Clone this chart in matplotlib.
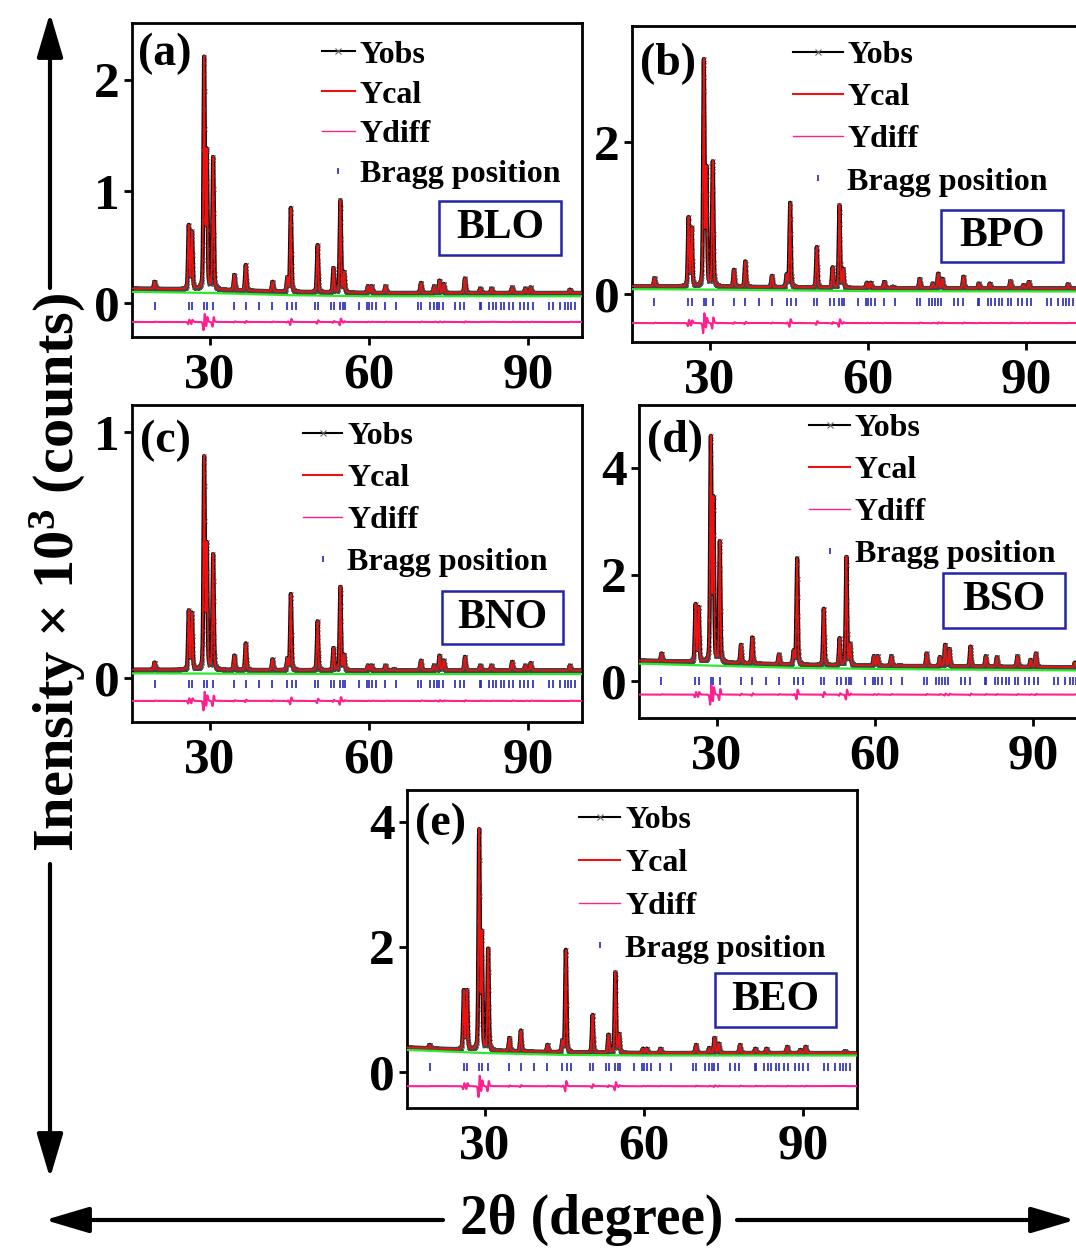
import numpy as np
import matplotlib
matplotlib.use("Agg")
import matplotlib.pyplot as plt
from matplotlib.lines import Line2D
from matplotlib.patches import Rectangle, ArrowStyle

plt.rcParams['font.family'] = ['Liberation Serif', 'DejaVu Serif']
plt.rcParams['font.weight'] = 'bold'
plt.rcParams['mathtext.fontset'] = 'custom'
plt.rcParams['mathtext.rm'] = 'Liberation Serif:bold'
plt.rcParams['mathtext.it'] = 'Liberation Serif:bold'
plt.rcParams['mathtext.bf'] = 'Liberation Serif:bold'

# ---------------- data ----------------
PANEL_TAGS = ['(a)', '(b)', '(c)', '(d)', '(e)']
SAMPLES = ['BLO', 'BPO', 'BNO', 'BSO', 'BEO']

TWO_THETA_MIN, TWO_THETA_MAX, TWO_THETA_STEP = 15.3, 100.2, 0.02

# reflection positions (2theta, degree)
PEAK_POS = [19.55, 26.0, 26.6, 28.9, 29.4, 30.6, 34.6, 36.75, 41.8, 44.6,
            45.25, 50.3, 53.3, 54.6, 55.3, 59.8, 60.5, 63.1, 64.7, 69.8,
            72.3, 73.3, 74.1, 78.1, 81.0, 83.1, 87.0, 89.5, 90.5, 97.9]

# observed peak tops (x10^3 counts)
TOPS_BLO = [0.19, 0.69, 0.63, 2.18, 1.33, 1.30, 0.25, 0.34, 0.19, 0.22,
            0.85, 0.52, 0.31, 0.92, 0.27, 0.15, 0.15, 0.15, 0.09, 0.18,
            0.15, 0.20, 0.17, 0.22, 0.13, 0.13, 0.14, 0.13, 0.14, 0.12]
TOPS_BPO = [0.21, 1.00, 0.86, 3.06, 1.61, 1.74, 0.32, 0.43, 0.24, 0.25,
            1.20, 0.62, 0.35, 1.17, 0.32, 0.15, 0.15, 0.16, 0.10, 0.20,
            0.14, 0.27, 0.20, 0.23, 0.14, 0.14, 0.17, 0.12, 0.16, 0.13]
TOPS_BNO = [0.062, 0.27, 0.26, 0.89, 0.53, 0.50, 0.09, 0.14, 0.075, 0.075,
            0.34, 0.23, 0.12, 0.37, 0.09, 0.05, 0.05, 0.05, 0.035, 0.07,
            0.05, 0.09, 0.07, 0.085, 0.05, 0.05, 0.065, 0.05, 0.06, 0.05]
TOPS_BSO = [0.52, 1.43, 1.37, 4.53, 3.36, 2.61, 0.68, 0.82, 0.50, 0.55,
            2.30, 1.36, 0.80, 2.33, 0.68, 0.47, 0.47, 0.47, 0.30, 0.52,
            0.45, 0.68, 0.60, 0.65, 0.47, 0.45, 0.47, 0.40, 0.52, 0.35]
TOPS_BEO = [0.43, 1.29, 1.29, 3.84, 2.17, 1.96, 0.54, 0.66, 0.43, 0.48,
            1.95, 0.91, 0.59, 1.59, 0.59, 0.37, 0.37, 0.37, 0.30, 0.43,
            0.38, 0.54, 0.45, 0.43, 0.37, 0.37, 0.40, 0.35, 0.40, 0.33]

# refined background (green line) nodes
BG_X = [15.3, 30.0, 45.0, 60.0, 100.2]
BG_BLO = [0.10, 0.09, 0.07, 0.06, 0.06]
BG_BPO = [0.065, 0.06, 0.05, 0.04, 0.035]
BG_BNO = [0.018, 0.017, 0.016, 0.015, 0.015]
BG_BSO = [0.33, 0.29, 0.25, 0.23, 0.20]
BG_BEO = [0.35, 0.30, 0.27, 0.26, 0.26]

OBS_LIFT = [0.03, 0.04, 0.015, 0.06, 0.04]        # obs baseline above bkg
PEAK_SHIFT = [0.008, 0.010, 0.010, 0.010, 0.011]  # obs - calc misfit (deg)
DIFF_OFFSET = [-0.17, -0.38, -0.094, -0.25, -0.23]
BRAGG_Y = [-0.03, -0.10, -0.027, 0.01, 0.07]

BRAGG_POS = [19.55, 26.0, 26.6, 28.9, 29.4, 30.56, 34.57, 36.75, 39.3, 41.8,
             44.6, 45.4, 46.3, 49.8, 50.4, 52.9, 53.5, 54.45, 55.1, 55.5,
             58.1, 59.6, 60.0, 60.5, 61.3, 63.0, 65.1, 69.3, 69.9, 71.6,
             72.2, 72.8, 73.3, 73.9, 76.3, 77.1, 78.0, 80.9, 81.1, 82.7,
             83.4, 84.0, 84.9, 85.5, 86.5, 87.1, 88.5, 89.3, 90.1, 90.9,
             93.9, 94.7, 96.0, 97.0, 97.6, 98.2, 98.9]

Y_LIMITS = [(-0.305, 2.51), (-0.63, 3.53), (-0.18, 1.11), (-0.69, 5.18), (-0.58, 4.51)]
Y_TICKS = [[0, 1, 2], [0, 2], [0, 1], [0, 2, 4], [0, 2, 4]]
X_TICKS = [30, 60, 90]

LEGEND_LABELS = ['Yobs', 'Ycal', 'Ydiff', 'Bragg position']
Y_LABEL = r'Inensity $\times$ 10$^{3}$ (counts)'
X_LABEL = '2\u03b8 (degree)'

TOPS = [TOPS_BLO, TOPS_BPO, TOPS_BNO, TOPS_BSO, TOPS_BEO]
BGS = [BG_BLO, BG_BPO, BG_BNO, BG_BSO, BG_BEO]

# ---------------- layout (pixels of the 1076x1248 canvas) ----------------
W, H = 1076, 1248
AX_PX = [(132, 23, 450, 314), (632, 26, 448, 316), (132, 405, 450, 317),
         (639, 405, 448, 313), (407, 790, 450, 318)]
LEG_ANCHOR = [(0.422, 0.945), (0.359, 0.953), (0.379, 0.948), (0.38, 0.973), (0.383, 0.95)]
LEG_HANDLELEN = [1.03, 1.56, 1.25, 1.28, 1.28]
LEG_SPACING = [0.33, 0.40, 0.40, 0.40, 0.42]
TAG_POS = [(0.013, 0.968), (0.018, 0.946), (0.018, 0.953), (0.018, 0.952), (0.018, 0.960)]
BOX = [(0.682, 0.261, 0.271, 0.172), (0.689, 0.254, 0.272, 0.165),
       (0.688, 0.245, 0.269, 0.169), (0.679, 0.288, 0.272, 0.175),
       (0.684, 0.254, 0.269, 0.172)]

C_OBS, C_CAL, C_DIFF = 'black', '#ee1111', '#ff1f8f'
C_BG, C_BRAGG, C_BOX = '#2ee82e', '#2626b8', '#2424a8'
FWHM, ETA = 0.30, 0.3


def pseudo_voigt(x, x0, h):
    d2 = (x - x0) ** 2 / FWHM ** 2
    return h * (ETA / (1 + 4 * d2) + (1 - ETA) * np.exp(-4 * np.log(2) * d2))


fig = plt.figure(figsize=(W / 100, H / 100), dpi=100)
tt = np.arange(TWO_THETA_MIN, TWO_THETA_MAX, TWO_THETA_STEP)

for i in range(5):
    l, t, w, h = AX_PX[i]
    ax = fig.add_axes([l / W, (H - t - h) / H, w / W, h / H])
    base = np.interp(tt, BG_X, BGS[i]) + OBS_LIFT[i]
    ycal = base.copy()
    yobs = base.copy()
    for p, top in zip(PEAK_POS, TOPS[i]):
        amp = max(top - (np.interp(p, BG_X, BGS[i]) + OBS_LIFT[i]), 0.0)
        ycal += pseudo_voigt(tt, p, amp)
        yobs += pseudo_voigt(tt, p + PEAK_SHIFT[i], amp)
    ydiff = yobs - ycal + DIFF_OFFSET[i]

    ax.plot(tt, yobs, color=C_OBS, lw=3.0, marker='x', ms=3.5, mew=0.7,
            mec='#444444', markevery=2, zorder=2)
    ax.plot(tt, ycal, color=C_CAL, lw=1.3, zorder=3)
    ax.plot(BG_X, BGS[i], color=C_BG, lw=1.6, zorder=4)
    ax.plot(BRAGG_POS, [BRAGG_Y[i]] * len(BRAGG_POS), ls='none', marker='|',
            ms=5.5, mew=1.2, color=C_BRAGG, zorder=4)
    ax.plot(tt, ydiff, color=C_DIFF, lw=1.5, zorder=4)

    ax.set_xlim(TWO_THETA_MIN, TWO_THETA_MAX)
    ax.set_ylim(*Y_LIMITS[i])
    ax.set_xticks(X_TICKS)
    ax.set_yticks(Y_TICKS[i])
    ax.tick_params(axis='both', direction='out', length=6, width=2,
                   labelsize=37, top=False, right=False)
    ax.tick_params(axis='x', pad=5)
    ax.tick_params(axis='y', pad=3)
    for lab in ax.get_xticklabels() + ax.get_yticklabels():
        lab.set_fontweight('bold')
    for s in ax.spines.values():
        s.set_linewidth(2.0)

    handles = [
        Line2D([], [], color=C_OBS, lw=1.5, marker='x', ms=4, mew=0.8, mec='#666666'),
        Line2D([], [], color=C_CAL, lw=1.5),
        Line2D([], [], color=C_DIFF, lw=1.0),
        Line2D([], [], ls='none', marker='|', ms=5, mew=1.2, color=C_BRAGG),
    ]
    ax.legend(handles, LEGEND_LABELS, loc='upper left',
              bbox_to_anchor=LEG_ANCHOR[i], frameon=False,
              prop={'family': 'Liberation Serif', 'weight': 'bold', 'size': 23},
              handlelength=LEG_HANDLELEN[i], handletextpad=0.15,
              labelspacing=LEG_SPACING[i], borderpad=0, borderaxespad=0,
              numpoints=1)

    tx, ty = TAG_POS[i]
    ax.text(tx, ty, PANEL_TAGS[i], transform=ax.transAxes, ha='left', va='top',
            fontsize=33, fontweight='bold')
    bx, by, bw, bh = BOX[i]
    ax.add_patch(Rectangle((bx, by), bw, bh, transform=ax.transAxes, fill=False,
                           ec=C_BOX, lw=1.8, zorder=6))
    ax.text(bx + bw / 2, by + bh / 2, SAMPLES[i], transform=ax.transAxes,
            ha='center', va='center', fontsize=30, fontweight='bold', zorder=7)

# ---------------- outer axis labels with arrows ----------------
style = ArrowStyle('-|>', head_length=1.35, head_width=0.4)
arrows = [((50, H - 288), (50, H - 13)), ((50, H - 864), (50, H - 1178)),
          ((443, H - 1220), (45, H - 1220)), ((737, H - 1220), (1075, H - 1220))]
for start, end in arrows:
    fig.add_artist(plt.Annotation('', xy=end, xytext=start, xycoords='figure pixels',
                                  textcoords='figure pixels',
                                  arrowprops=dict(arrowstyle=style, lw=3, color='black',
                                                  mutation_scale=20, shrinkA=0, shrinkB=0)))

fig.text(58 / W, (H - 572) / H, Y_LABEL, rotation=90, ha='center', va='center',
         fontsize=42, fontweight='bold')
fig.text(592 / W, (H - 1220) / H, X_LABEL, ha='center', va='center',
         fontsize=40, fontweight='bold')

fig.savefig('out.png', dpi=100)
